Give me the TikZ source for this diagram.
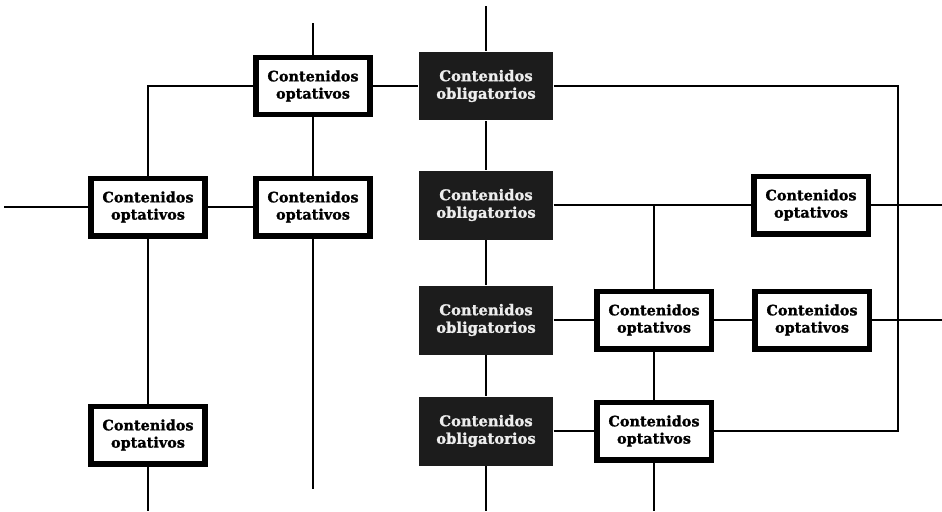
\documentclass[tikz,border=0pt]{standalone}
\usepackage{fontspec}
\setmainfont{DejaVu Serif}[BoldFeatures={FakeBold=1.2}]
\usepackage{tikz}
\definecolor{obgris}{HTML}{1C1C1C}
\definecolor{obtexto}{HTML}{EDEDED}

\begin{document}
\begin{tikzpicture}[line width=0.85pt, x=0.02cm, y=-0.02cm,
  optativo/.style={draw, line width=0.11cm, fill=white, minimum width=2.29cm,
    minimum height=1.15cm, align=center, inner sep=0pt,
    font=\fontsize{8.2}{9.8}\selectfont\bfseries},
  obligatorio/.style={fill=obgris, text=obtexto, minimum width=2.68cm,
    minimum height=1.38cm, align=center, inner sep=0pt,
    font=\fontsize{8.4}{10}\selectfont\bfseries}]
\useasboundingbox (0,0) rectangle (942,511);

% columna central
  \node[obligatorio] (ob1) at (486,86)  {Contenidos\\obligatorios};
  \node[obligatorio] (ob2) at (486,205) {Contenidos\\obligatorios};
  \node[obligatorio] (ob3) at (486,320) {Contenidos\\obligatorios};
  \node[obligatorio] (ob4) at (486,431) {Contenidos\\obligatorios};

% optativos
  \node[optativo] (opA) at (313,86)  {Contenidos\\optativos};
  \node[optativo] (opB) at (148,207) {Contenidos\\optativos};
  \node[optativo] (opC) at (313,207) {Contenidos\\optativos};
  \node[optativo] (opD) at (811,205) {Contenidos\\optativos};
  \node[optativo] (opE) at (654,320) {Contenidos\\optativos};
  \node[optativo] (opF) at (812,320) {Contenidos\\optativos};
  \node[optativo] (opG) at (148,435) {Contenidos\\optativos};
  \node[optativo] (opH) at (654,431) {Contenidos\\optativos};

% extremos libres
  \coordinate (tA) at (313,23);
  \coordinate (tO) at (486,6);
  \coordinate (lB) at (4,207);
  \coordinate (bG) at (148,511);
  \coordinate (bC) at (313,489);
  \coordinate (bO) at (486,511);
  \coordinate (bH) at (654,511);
  \coordinate (rD) at (942,205);
  \coordinate (rF) at (942,320);
  \coordinate (rc) at (898,431);

  \draw
   (tA) -- (opA)
   (tO) -- (ob1)
   (opA) -- (ob1)
   (opA.west) -| (opB.north)
   (opA) -- (opC)
   (lB) -- (opB)
   (opB) -- (opC)
   (opB) -- (opG)
   (opG) -- (bG)
   (opC) -- (bC)
   (ob1) -- (ob2) -- (ob3) -- (ob4)
   (ob4) -- (bO)
   (ob1) -| (rc) -- (opH)
   (ob2) -- (opD)
   (opE) -- (opE |- ob2)
   (opD) -- (rD)
   (ob3) -- (opE) -- (opF)
   (opF) -- (rF)
   (opE) -- (opH)
   (ob4) -- (opH)
   (opH) -- (bH);
\end{tikzpicture}
\end{document}
